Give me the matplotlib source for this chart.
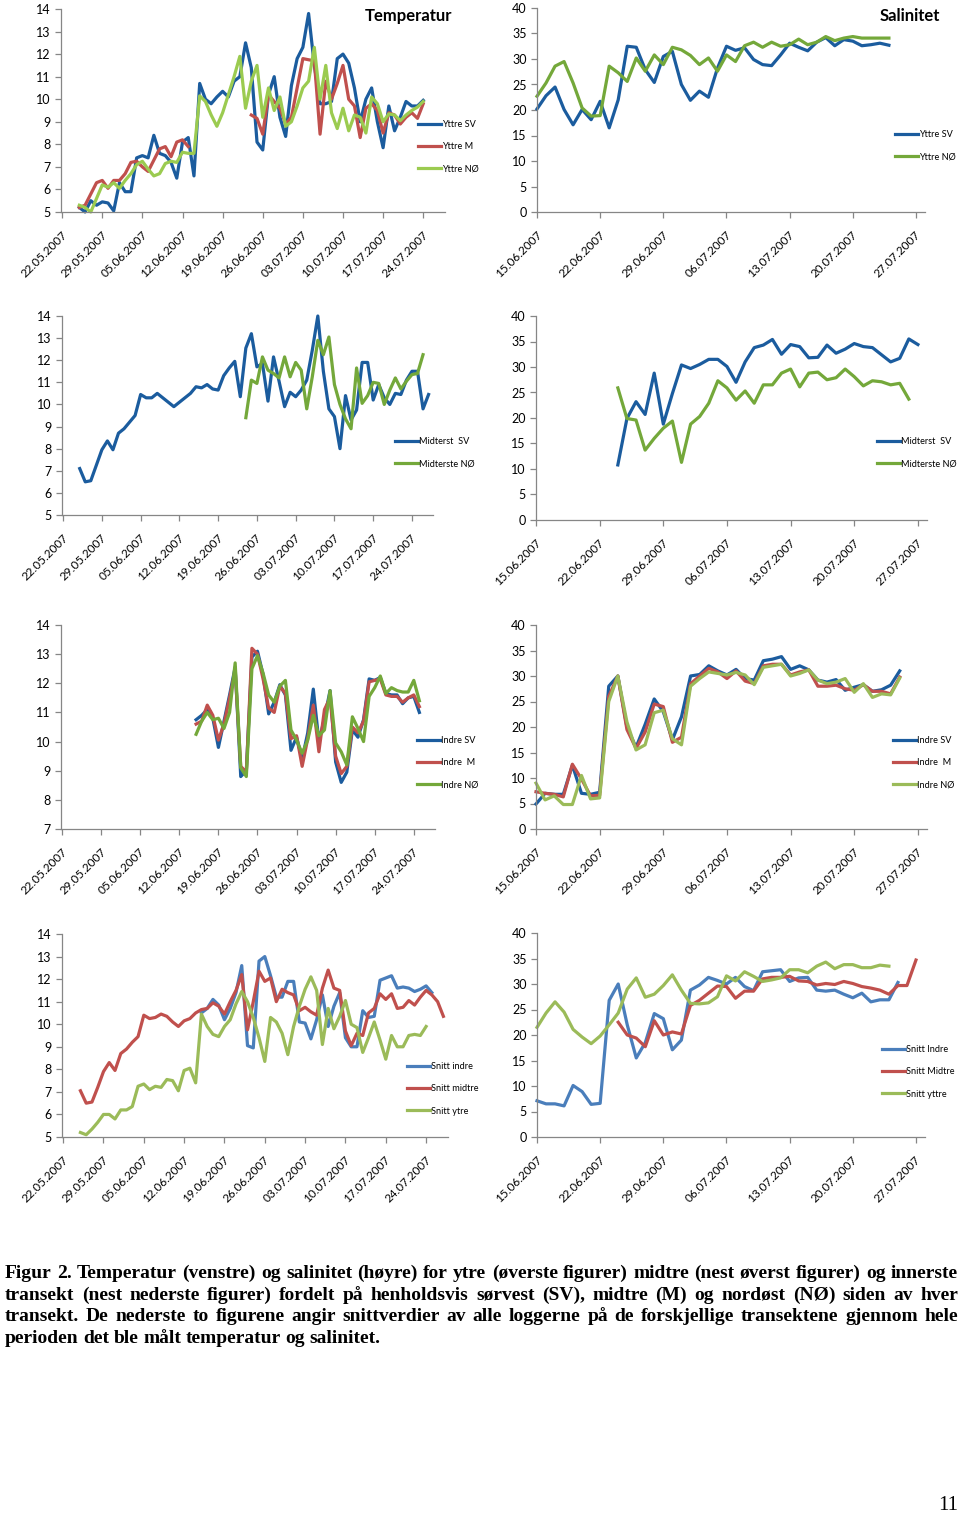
import numpy as np
import matplotlib
matplotlib.use("Agg")
import matplotlib.pyplot as plt
import matplotlib.transforms as mtrans

W, H = 960, 1515

# ---- data (temperature: day index from 22.05.2007, salinity: day index from 15.06.2007)
temp_ticks = ['22.05.2007', '29.05.2007', '05.06.2007', '12.06.2007', '19.06.2007',
              '26.06.2007', '03.07.2007', '10.07.2007', '17.07.2007', '24.07.2007']
sal_ticks = ['15.06.2007', '22.06.2007', '29.06.2007', '06.07.2007',
             '13.07.2007', '20.07.2007', '27.07.2007']

# Yttre, temperature (start day 3)
yttre_sv_t = [5.2, 5.0, 5.5, 5.3, 5.45, 5.4, 5.05, 6.3, 5.9, 5.9, 7.4, 7.5, 7.4, 8.4, 7.6,
              7.5, 7.2, 6.5, 8.1, 8.3, 6.6, 10.7, 10.0, 9.8, 10.1, 10.35, 10.1, 10.8, 11.0,
              12.5, 11.4, 8.1, 7.75, 10.2, 11.0, 9.2, 8.35, 10.6, 11.8, 12.3, 13.8, 11.5,
              9.8, 9.8, 9.9, 11.8, 12.0, 11.6, 10.5, 9.0, 10.0, 10.5, 9.0, 7.85, 9.7, 8.6,
              9.2, 9.9, 9.7, 9.7, 9.95]
yttre_m_t = [5.2, 5.3, 5.8, 6.3, 6.4, 6.05, 6.4, 6.4, 6.7, 7.2, 7.25, 7.0, 6.8, 7.3, 7.8,
             7.9, 7.45, 8.1, 8.2, 7.9,
             None, None, None, None, None, None, None, None, None, None,
             9.3, 9.15, 8.45, 10.2, 9.9, 9.6, 8.9, 9.2, 10.5, 11.8, 11.75, 11.7, 8.45, 10.8,
             10.0, 10.7, 11.5, 10.0, 9.7, 8.3, 9.6, 9.8, 9.5, 8.5, 9.4, 9.3, 8.9, 9.2, 9.4,
             9.15, 9.8]
yttre_no_t = [5.3, 5.2, 5.0, 5.6, 6.2, 6.1, 6.3, 6.05, 6.4, 6.7, 7.1, 7.25, 6.9, 6.6, 6.7,
              7.15, 7.25, 7.2, 7.65, 7.6, 7.6, 10.15, 9.9, 9.3, 8.8, 9.4, 10.2, 11.0, 11.9,
              9.6, 10.8, 11.5, 9.2, 10.5, 9.5, 10.1, 8.8, 9.0, 9.7, 10.5, 10.8, 12.3, 10.0,
              11.5, 9.4, 8.7, 9.6, 8.6, 9.3, 9.2, 8.5, 10.1, 9.8, 9.0, 9.35, 9.3, 9.05, 9.3,
              9.5, 9.65, 9.9]

# Yttre, salinity (start day 0)
yttre_sv_s = [20.2, 22.8, 24.5, 20.1, 17.1, 20.1, 18.1, 21.7, 16.5, 22.0, 32.5, 32.3, 27.9,
              25.4, 30.5, 31.5, 25.0, 21.9, 23.7, 22.5, 28.2, 32.5, 31.7, 32.2, 29.9, 28.9,
              28.7, 30.8, 33.1, 32.3, 31.6, 33.3, 34.2, 32.6, 33.8, 33.5, 32.6, 32.8, 33.1,
              32.7]
yttre_no_s = [22.7, 25.3, 28.6, 29.5, 25.3, 20.4, 18.8, 18.9, 28.6, 27.3, 25.6, 30.2, 27.6,
              30.8, 28.9, 32.3, 31.8, 30.7, 28.9, 30.2, 27.6, 30.8, 29.5, 32.6, 33.3, 32.3,
              33.3, 32.5, 32.8, 33.9, 32.8, 33.3, 34.4, 33.6, 34.1, 34.4, 34.1, 34.1, 34.1,
              34.1]

# Midterst, temperature (SV from day 3, NØ from day 33)
midt_sv_t = [7.1, 6.5, 6.55, 7.25, 7.95, 8.35, 7.95, 8.7, 8.9, 9.2, 9.5, 10.45, 10.3, 10.3,
             10.5, 10.3, 10.1, 9.9, 10.1, 10.3, 10.5, 10.8, 10.75, 10.9, 10.7, 10.65, 11.3,
             11.65, 11.95, 10.35, 12.55, 13.2, 11.7, 11.85, 10.15, 12.15, 11.05, 9.9, 10.55,
             10.35, 10.65, 11.1, 12.45, 14.0, 11.5, 9.8, 9.45, 8.0, 10.4, 9.3, 9.75, 11.9,
             11.9, 10.2, 10.9, 10.3, 10.0, 10.5, 10.45, 11.1, 11.5, 11.5, 9.8, 10.45]
midt_no_t = [9.4, 11.1, 10.95, 12.15, 11.55, 11.4, 11.2, 12.15, 11.25, 11.9, 11.55, 9.8,
             11.25, 12.9, 12.25, 13.05, 10.9, 10.0, 9.35, 8.9, 11.65, 10.05, 10.4, 11.0,
             10.95, 10.0, 10.65, 11.2, 10.7, 11.05, 11.35, 11.4, 12.25]

# Midterst, salinity (start day 9)
midt_sv_s = [10.8, 19.9, 23.2, 20.7, 28.8, 18.8, 24.8, 30.4, 29.7, 30.5, 31.5, 31.5, 30.1,
             27.0, 31.0, 33.8, 34.3, 35.4, 32.5, 34.4, 34.0, 31.8, 31.9, 34.3, 32.7, 33.5,
             34.6, 34.0, 33.8, 32.4, 31.0, 31.7, 35.5, 34.4]
midt_no_s = [25.9, 19.9, 19.6, 13.7, 16.0, 18.0, 19.4, 11.3, 18.8, 20.3, 22.9, 27.3, 25.9,
             23.5, 25.3, 22.9, 26.5, 26.5, 28.8, 29.6, 26.1, 28.8, 29.0, 27.5, 27.9, 29.6,
             28.1, 26.3, 27.3, 27.1, 26.5, 26.8, 23.7]

# Indre, temperature (start day 24)
indre_sv_t = [10.75, 10.9, 11.1, 10.8, 9.8, 10.7, 11.6, 12.55, 8.8, 9.0, 12.9, 13.1, 12.3,
              10.95, 11.35, 11.95, 11.6, 9.7, 10.15, 9.4, 10.3, 11.8, 10.0, 10.8, 11.75, 9.3,
              8.6, 8.95, 10.4, 10.15, 10.75, 12.15, 12.1, 12.2, 11.65, 11.6, 11.6, 11.3,
              11.5, 11.55, 11.0]
indre_m_t = [10.6, 10.7, 11.25, 10.9, 10.05, 10.6, 11.5, 12.45, 9.15, 8.95, 13.2, 13.0,
             12.15, 11.15, 11.0, 11.9, 11.65, 10.1, 10.2, 9.15, 10.1, 11.25, 9.65, 11.1, 11.5,
             9.5, 8.9, 9.15, 10.5, 10.3, 10.7, 12.05, 12.1, 12.15, 11.6, 11.55, 11.55, 11.35,
             11.5, 11.6, 11.2]
indre_no_t = [10.25, 10.7, 11.0, 10.75, 10.8, 10.45, 11.0, 12.7, 9.1, 8.8, 12.5, 12.95,
              12.35, 11.6, 11.35, 11.9, 12.1, 10.4, 10.05, 9.6, 10.05, 10.9, 10.2, 10.4,
              11.75, 9.95, 9.65, 9.2, 10.85, 10.45, 10.0, 11.55, 11.85, 12.25, 11.65, 11.85,
              11.75, 11.7, 11.7, 12.1, 11.4]

# Indre, salinity (start day 0)
indre_sv_s = [4.9, 7.0, 6.8, 6.8, 12.5, 7.0, 6.8, 7.2, 28.0, 30.0, 20.0, 16.0, 20.5, 25.5,
              23.0, 17.5, 22.0, 30.0, 30.3, 32.0, 31.0, 30.2, 31.3, 29.5, 29.2, 33.0, 33.3,
              33.8, 31.3, 32.0, 31.2, 29.2, 28.8, 29.3, 27.2, 27.8, 28.3, 27.0, 27.3, 28.2,
              31.0]
indre_m_s = [7.3, 7.0, 6.8, 6.3, 12.7, 9.8, 6.5, 6.6, 26.0, 30.0, 19.5, 15.8, 19.0, 24.5,
             24.0, 17.0, 18.0, 28.5, 30.0, 31.5, 30.8, 29.5, 31.0, 29.0, 28.5, 32.0, 32.3,
             32.3, 30.2, 30.8, 31.2, 28.0, 28.0, 28.2, 27.5, 27.2, 28.3, 27.0, 27.0, 26.5,
             29.8]
indre_no_s = [9.0, 5.7, 6.5, 4.8, 4.8, 10.5, 5.9, 6.1, 25.0, 30.0, 21.0, 15.5, 16.5, 22.8,
              23.3, 17.7, 16.5, 28.0, 29.5, 30.8, 30.5, 30.2, 30.7, 30.2, 28.3, 31.7, 32.0,
              32.3, 30.0, 30.5, 31.2, 29.2, 28.5, 28.8, 29.5, 26.8, 28.5, 25.8, 26.5, 26.3,
              29.6]

# Snitt, temperature (indre from day 24, midtre and ytre from day 3)
snitt_indre_t = [10.5, 10.7, 11.1, 10.85, 10.2, 10.7, 11.4, 12.6, 9.05, 8.95, 12.8, 13.0,
                 12.15, 11.2, 11.2, 11.9, 11.9, 10.1, 10.05, 9.35, 10.2, 11.3, 9.9, 10.8,
                 11.4, 9.4, 9.0, 9.0, 10.6, 10.3, 10.35, 11.95, 12.05, 12.15, 11.6, 11.65,
                 11.6, 11.45, 11.55, 11.7, 11.4]
snitt_midtre_t = [7.05, 6.5, 6.55, 7.2, 7.9, 8.3, 7.95, 8.7, 8.9, 9.2, 9.45, 10.4, 10.25,
                  10.3, 10.45, 10.35, 10.1, 9.9, 10.15, 10.25, 10.5, 10.65, 10.7, 10.95, 10.8,
                  10.45, 11.0, 11.5, 12.2, 9.75, 11.0, 12.35, 11.9, 12.05, 11.0, 11.55, 11.4,
                  11.3, 10.6, 10.75, 10.55, 10.4, 11.6, 12.4, 11.6, 11.5, 9.7, 9.05, 9.6, 9.5,
                  10.5, 10.7, 11.35, 11.1, 11.35, 10.7, 10.75, 11.05, 10.85, 11.2, 11.5, 11.3,
                  11.0, 10.35]
snitt_ytre_t = [5.2, 5.1, 5.35, 5.65, 6.0, 6.0, 5.8, 6.2, 6.2, 6.35, 7.25, 7.35, 7.1, 7.25,
                7.2, 7.55, 7.5, 7.05, 7.95, 8.05, 7.4, 10.45, 9.9, 9.55, 9.45, 9.9, 10.2, 10.9,
                11.45, 11.0, 10.3, 9.4, 8.35, 10.3, 10.1, 9.6, 8.65, 9.9, 10.8, 11.55, 12.1,
                11.5, 9.1, 10.7, 9.8, 10.35, 11.05, 10.0, 9.85, 8.75, 9.4, 10.1, 9.3, 8.45,
                9.5, 9.0, 9.0, 9.5, 9.55, 9.5, 9.9]

# Snitt, salinity (indre and ytre from day 0, midtre from day 9)
snitt_indre_s = [7.1, 6.5, 6.5, 6.1, 10.1, 8.9, 6.4, 6.6, 26.8, 30.0, 22.0, 15.5, 18.5,
                 24.2, 23.2, 17.1, 19.0, 28.8, 29.8, 31.3, 30.7, 30.0, 31.3, 29.5, 28.7, 32.4,
                 32.6, 32.8, 30.5, 31.2, 31.3, 28.8, 28.6, 28.8, 28.0, 27.3, 28.2, 26.5, 26.9,
                 26.9, 30.3]
snitt_midtre_s = [22.5, 20.0, 19.4, 17.7, 22.8, 20.0, 20.6, 20.2, 25.8, 26.8, 28.2, 29.6,
                  29.5, 27.2, 28.6, 28.6, 31.0, 31.3, 31.3, 31.5, 30.6, 30.5, 29.8, 30.1, 29.9,
                  30.5, 30.1, 29.5, 29.2, 28.8, 28.0, 29.7, 29.7, 34.7]
snitt_ytre_s = [21.5, 24.3, 26.5, 24.5, 21.1, 19.6, 18.3, 19.8, 22.0, 24.3, 29.0, 31.2, 27.4,
                28.0, 29.7, 31.8, 28.8, 26.2, 26.1, 26.3, 27.5, 31.6, 30.6, 32.4, 31.5, 30.5,
                30.8, 31.2, 32.8, 32.8, 32.2, 33.5, 34.3, 33.0, 33.8, 33.8, 33.2, 33.2, 33.7,
                33.5]

BLUE = '#1B5C9E'
RED = '#C0504D'
GREEN_L = '#9BCB50'
GREEN_D = '#74A83A'
BLUE_L = '#4A7EBB'
GREEN_S = '#9BBB59'
AXC = '#868686'

plt.rcParams['font.family'] = ['Lato', 'DejaVu Sans']

fig = plt.figure(figsize=(W / 100, H / 100), dpi=100)
label_shift = mtrans.ScaledTranslation(3 / 100, -3 / 100, fig.dpi_scale_trans)


def add_ax(left, top, right, bottom):
    return fig.add_axes([left / W, 1 - bottom / H, (right - left) / W, (bottom - top) / H])


def panel(ax, series, kind, ylim, ystep, leg_xy):
    for label, start, vals, color in series:
        v = np.array(vals, dtype=float)
        x = start + np.arange(len(v))
        ax.plot(x, v, color=color, lw=2.3, label=label, clip_on=False)
    if kind == 'temp':
        ax.set_xlim(-0.2, 66.8)
        ax.set_xticks(np.arange(len(temp_ticks)) * 7)
        ax.set_xticklabels(temp_ticks)
    else:
        ax.set_xlim(0, 43)
        ax.set_xticks(np.arange(len(sal_ticks)) * 7)
        ax.set_xticklabels(sal_ticks)
    ax.set_ylim(*ylim)
    ax.set_yticks(np.arange(ylim[0], ylim[1] + 0.1, ystep))
    for s in ('top', 'right'):
        ax.spines[s].set_visible(False)
    for s in ('left', 'bottom'):
        ax.spines[s].set_color(AXC)
        ax.spines[s].set_linewidth(0.9)
    ax.tick_params(axis='both', color=AXC, length=4, width=0.9, labelsize=9)
    ax.tick_params(axis='x', pad=9, labelsize=8.5)
    for lab in ax.get_xticklabels():
        lab.set_rotation(45)
        lab.set_ha('right')
        lab.set_va('center')
        lab.set_rotation_mode('anchor')
        lab.set_transform(lab.get_transform() + label_shift)
    ax.patch.set_alpha(0)
    ax.legend(loc='upper left', bbox_to_anchor=(leg_xy[0] / W, 1 - leg_xy[1] / H),
              bbox_transform=fig.transFigure, frameon=False, fontsize=6.6,
              handlelength=2.5, handletextpad=0.15, labelspacing=1.45,
              borderpad=0, borderaxespad=0)


ax1 = add_ax(61, 9, 445, 212)
panel(ax1, [('Yttre SV', 3, yttre_sv_t, BLUE), ('Yttre M', 3, yttre_m_t, RED),
            ('Yttre NØ', 3, yttre_no_t, GREEN_L)], 'temp', (5, 14), 1, (418, 120))
fig.text(452 / W, 1 - 16 / H, 'Temperatur', ha='right', va='center',
         fontsize=12, fontweight='bold')

ax2 = add_ax(537, 8, 925, 212)
panel(ax2, [('Yttre SV', 0, yttre_sv_s, BLUE), ('Yttre NØ', 0, yttre_no_s, GREEN_D)],
      'sal', (0, 40), 5, (895, 130))
fig.text(940 / W, 1 - 16 / H, 'Salinitet', ha='right', va='center',
         fontsize=12, fontweight='bold')

ax3 = add_ax(62, 316, 433, 515)
panel(ax3, [('Midterst  SV', 3, midt_sv_t, BLUE), ('Midterste NØ', 33, midt_no_t, GREEN_D)],
      'temp', (5, 14), 1, (395, 437))

ax4 = add_ax(536, 316, 927, 520)
panel(ax4, [('Midterst  SV', 9, midt_sv_s, BLUE), ('Midterste NØ', 9, midt_no_s, GREEN_D)],
      'sal', (0, 40), 5, (877, 437))

ax5 = add_ax(61, 625, 435, 829)
panel(ax5, [('Indre SV', 24, indre_sv_t, BLUE), ('Indre  M', 24, indre_m_t, RED),
            ('Indre NØ', 24, indre_no_t, GREEN_D)], 'temp', (7, 14), 1, (417, 736))

ax6 = add_ax(536, 625, 927, 829)
panel(ax6, [('Indre SV', 0, indre_sv_s, BLUE), ('Indre  M', 0, indre_m_s, RED),
            ('Indre NØ', 0, indre_no_s, GREEN_S)], 'sal', (0, 40), 5, (893, 736))

ax7 = add_ax(62, 934, 448, 1137)
panel(ax7, [('Snitt indre', 24, snitt_indre_t, BLUE_L), ('Snitt midtre', 3, snitt_midtre_t, RED),
            ('Snitt ytre', 3, snitt_ytre_t, GREEN_S)], 'temp', (5, 14), 1, (407, 1062))

ax8 = add_ax(537, 933, 925, 1137)
panel(ax8, [('Snitt Indre', 0, snitt_indre_s, BLUE_L), ('Snitt Midtre', 9, snitt_midtre_s, RED),
            ('Snitt yttre', 0, snitt_ytre_s, GREEN_S)], 'sal', (0, 40), 5, (882, 1045))

# ---- caption, justified by hand
caption = [
    "Figur 2. Temperatur (venstre) og salinitet (høyre) for ytre (øverste figurer) midtre (nest øverst figurer) og innerste",
    "transekt (nest nederste figurer) fordelt på henholdsvis sørvest (SV), midtre (M) og nordøst (NØ) siden av hver",
    "transekt. De nederste to figurene angir snittverdier av alle loggerne på de forskjellige transektene gjennom hele",
    "perioden det ble målt temperatur og salinitet.",
]
x0, x1 = 5, 958
fig.canvas.draw()
rend = fig.canvas.get_renderer()
size = 14.0
while True:
    widest = 0
    for line in caption[:-1]:
        t = fig.text(0, 0, line.replace(' ', ''), family='Liberation Serif',
                     fontweight='bold', fontsize=size)
        n = line.count(' ')
        widest = max(widest, t.get_window_extent(rend).width + 3.5 * n)
        t.remove()
    if widest <= x1 - x0:
        break
    size -= 0.2

for i, line in enumerate(caption):
    y = 1 - (1278 + i * 21.7) / H
    words = line.split(' ')
    texts = [fig.text(0, y, w, ha='left', va='baseline', family='Liberation Serif',
                      fontweight='bold', fontsize=size) for w in words]
    widths = [t.get_window_extent(rend).width for t in texts]
    if i < len(caption) - 1:
        gap = (x1 - x0 - sum(widths)) / (len(words) - 1)
    else:
        gap = 4.5
    x = x0
    for t, w in zip(texts, widths):
        t.set_x(x / W)
        x += w + gap

fig.text(958 / W, 1 - 1510 / H, '11', ha='right', va='baseline',
         family='Liberation Serif', fontsize=15)

fig.savefig('out.png', dpi=100)
